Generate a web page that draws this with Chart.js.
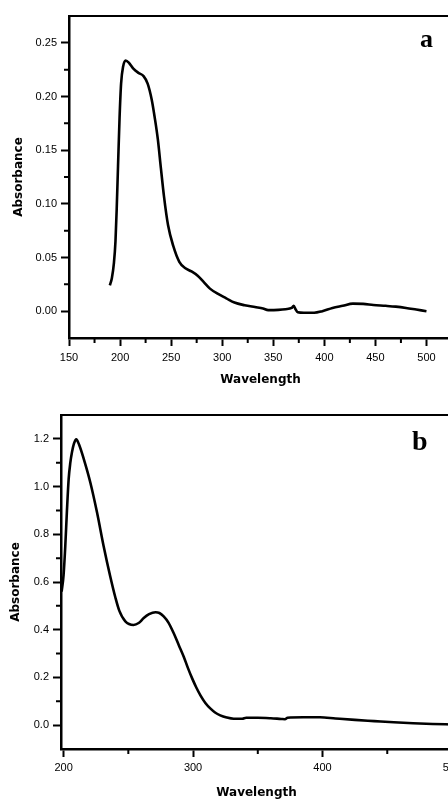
<!DOCTYPE html>
<html>
<head>
<meta charset="utf-8">
<script src="https://cdn.jsdelivr.net/npm/chart.js@4.4.0/dist/chart.umd.min.js"></script>
<style>
    html, body { margin: 0; padding: 0; background: #fff; }
    body { width: 448px; height: 799px; overflow: hidden; position: relative; }
    canvas { position: absolute; left: 0; }
    #chartA { top: 0; }
    #chartB { top: 397px; }
    .tag { position: absolute; font-family: 'Liberation Serif', serif; font-weight: bold; color: #000; line-height: 1; }
</style>
</head>
<body>
<canvas id="chartA" width="470" height="392"></canvas>
<canvas id="chartB" width="470" height="404"></canvas>
<div class="tag" style="left:420px; top:26px; font-size:26px;">a</div>
<div class="tag" style="left:412px; top:427px; font-size:28px;">b</div>
<script>
// spectrum a
const wavelengthA = [190, 192, 194, 195.5, 196.7, 198, 199.5, 201, 203, 205.5, 209, 213, 218, 223, 227, 231, 234, 237, 240, 243, 247, 252, 258, 264, 270, 276, 282, 288, 296, 304, 312, 322, 332, 340, 345, 355, 362, 368, 370, 372, 374, 380, 390, 398, 408, 418, 428, 438, 448, 460, 470, 480, 490, 500];
const absorbanceA = [0.024, 0.031, 0.045, 0.065, 0.095, 0.135, 0.18, 0.212, 0.228, 0.2335, 0.231, 0.226, 0.222, 0.219, 0.212, 0.197, 0.18, 0.16, 0.133, 0.107, 0.08, 0.061, 0.046, 0.04, 0.037, 0.033, 0.027, 0.021, 0.016, 0.012, 0.008, 0.0055, 0.0038, 0.0025, 0.001, 0.0012, 0.0018, 0.003, 0.005, 0.0015, -0.001, -0.0015, -0.0015, 0, 0.003, 0.005, 0.007, 0.0068, 0.0058, 0.005, 0.0042, 0.003, 0.0015, 0];
const xMajorA = [150, 200, 250, 300, 350, 400, 450, 500];
const xMinorA = [175, 225, 275, 325, 375, 425, 475];
const yMajorA = [0, 0.05, 0.10, 0.15, 0.20, 0.25];
const yMinorA = [0.025, 0.075, 0.125, 0.175, 0.225];

// spectrum b
const wavelengthB = [198.5, 200, 201.3, 202.6, 203.9, 205.2, 206.5, 208, 209.8, 212, 215.5, 220.6, 225.8, 230.9, 236, 240, 243, 247.7, 254, 258, 261.9, 266, 271, 274, 277.3, 281, 285, 289, 292.8, 296, 299.3, 302.5, 305.7, 309.5, 313.5, 317, 321, 326, 331.4, 338, 341, 350, 360, 368, 371, 373, 385, 398, 410, 425, 440, 455, 470, 485, 500];
const absorbanceB = [0.56, 0.63, 0.75, 0.9, 1.03, 1.1, 1.145, 1.18, 1.198, 1.175, 1.117, 1.018, 0.892, 0.751, 0.624, 0.535, 0.48, 0.435, 0.42, 0.428, 0.449, 0.465, 0.473, 0.47, 0.456, 0.43, 0.386, 0.335, 0.287, 0.24, 0.196, 0.158, 0.125, 0.093, 0.069, 0.053, 0.041, 0.032, 0.027, 0.027, 0.031, 0.031, 0.029, 0.026, 0.025, 0.031, 0.033, 0.033, 0.028, 0.022, 0.017, 0.012, 0.008, 0.005, 0.003];
const xMajorB = [200, 300, 400, 500];
const xMinorB = [250, 350, 450];
const yMajorB = [0, 0.2, 0.4, 0.6, 0.8, 1.0, 1.2];
const yMinorB = [0.1, 0.3, 0.5, 0.7, 0.9, 1.1];

const tickFont = { family: "'Liberation Sans', Arial, sans-serif", size: 11 };
const titleFont = { family: "'DejaVu Sans', sans-serif", size: 12, weight: 'bold' };

// short minor ticks + top frame line
const frameTicks = {
    id: 'frameTicks',
    afterDraw(chart, args, opts) {
        const { ctx, scales: { x, y } } = chart;
        ctx.save();
        ctx.strokeStyle = '#000';
        ctx.lineWidth = 2;
        ctx.beginPath();
        opts.xMinor.forEach(v => {
            const px = x.getPixelForValue(v);
            ctx.moveTo(px, y.bottom);
            ctx.lineTo(px, y.bottom + 5);
        });
        opts.yMinor.forEach(v => {
            const py = y.getPixelForValue(v);
            ctx.moveTo(x.left, py);
            ctx.lineTo(x.left - 5, py);
        });
        ctx.moveTo(x.left, y.top);
        ctx.lineTo(x.right, y.top);
        ctx.stroke();
        ctx.restore();
    }
};

function makeChart(id, xs, ys, o) {
    const points = xs.map((v, i) => ({ x: v, y: ys[i] }));
    return new Chart(document.getElementById(id), {
        type: 'line',
        data: {
            datasets: [{
                data: points,
                borderColor: '#000',
                borderWidth: 2.6,
                pointRadius: 0,
                cubicInterpolationMode: 'monotone',
                fill: false
            }]
        },
        plugins: [frameTicks],
        options: {
            responsive: false,
            animation: false,
            devicePixelRatio: 1,
            layout: { padding: { top: o.padTop, right: 18, left: 0, bottom: 0 } },
            plugins: {
                legend: { display: false },
                tooltip: { enabled: false },
                frameTicks: { xMinor: o.xMinor, yMinor: o.yMinor }
            },
            scales: {
                x: {
                    type: 'linear',
                    min: o.xMin,
                    max: o.xMax,
                    afterBuildTicks: s => { s.ticks = o.xMajor.map(v => ({ value: v })); },
                    afterFit: s => { s.height = o.xHeight; },
                    grid: { drawOnChartArea: false, drawTicks: true, tickLength: 8, tickColor: '#000', tickWidth: 2 },
                    border: { color: '#000', width: 2.5 },
                    ticks: { autoSkip: false, maxRotation: 0, padding: o.xTickPad, color: '#000', font: tickFont, callback: v => String(v) },
                    title: { display: true, text: 'Wavelength', color: '#000', font: titleFont, padding: { top: 0, bottom: o.xTitlePad } }
                },
                y: {
                    type: 'linear',
                    min: o.yMin,
                    max: o.yMax,
                    afterBuildTicks: s => { s.ticks = o.yMajor.map(v => ({ value: v })); },
                    afterFit: s => { s.width = o.yWidth; },
                    grid: { drawOnChartArea: false, drawTicks: true, tickLength: 8, tickColor: '#000', tickWidth: 2 },
                    border: { color: '#000', width: 2.5 },
                    ticks: { autoSkip: false, padding: 4, color: '#000', font: tickFont, callback: v => v.toFixed(o.digits) },
                    title: { display: true, text: 'Absorbance', color: '#000', font: titleFont, padding: { top: o.yTitlePad, bottom: 0 } }
                }
            }
        }
    });
}

makeChart('chartA', wavelengthA, absorbanceA, {
    xMin: 150, xMax: 525, yMin: -0.025, yMax: 0.275,
    xMajor: xMajorA, xMinor: xMinorA, yMajor: yMajorA, yMinor: yMinorA,
    digits: 2, padTop: 16, xHeight: 54, yWidth: 69,
    xTickPad: 5, xTitlePad: 4.8, yTitlePad: 11.8
});

makeChart('chartB', wavelengthB, absorbanceB, {
    xMin: 198, xMax: 500, yMin: -0.1, yMax: 1.3,
    xMajor: xMajorB, xMinor: xMinorB, yMajor: yMajorB, yMinor: yMinorB,
    digits: 1, padTop: 18, xHeight: 52, yWidth: 61,
    xTickPad: 4, xTitlePad: 0.8, yTitlePad: 8.8
});
</script>
</body>
</html>
